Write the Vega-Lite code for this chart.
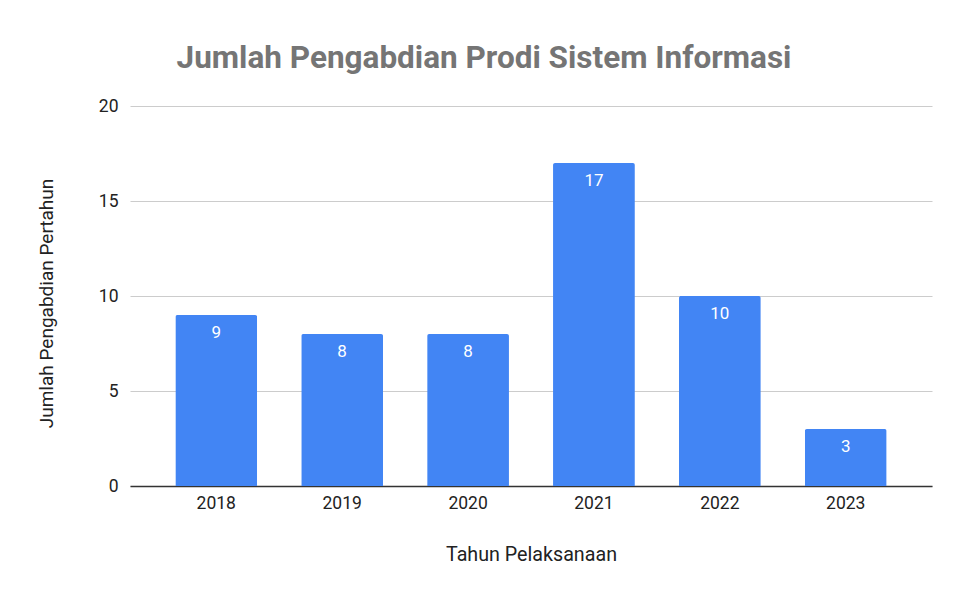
{
  "$schema": "https://vega.github.io/schema/vega-lite/v6.json",
  "autosize": "none",
  "width": 802,
  "height": 380,
  "padding": {"left": 130, "top": 106, "right": 21, "bottom": 106},
  "background": "white",
  "config": {
    "font": "Roboto",
    "view": {"stroke": null}
  },
  "title": {
    "text": "Jumlah Pengabdian Prodi Sistem Informasi",
    "font": "Roboto",
    "fontSize": 31.5,
    "fontWeight": "bold",
    "color": "#757575",
    "anchor": "middle",
    "dx": -47,
    "offset": 23
  },
  "data": {
    "values": [
      {"tahun": "2018", "jumlah": 9},
      {"tahun": "2019", "jumlah": 8},
      {"tahun": "2020", "jumlah": 8},
      {"tahun": "2021", "jumlah": 17},
      {"tahun": "2022", "jumlah": 10},
      {"tahun": "2023", "jumlah": 3}
    ]
  },
  "encoding": {
    "x": {
      "field": "tahun",
      "type": "nominal",
      "scale": {"paddingInner": 0.35, "paddingOuter": 0.36},
      "axis": {
        "title": "Tahun Pelaksanaan",
        "titleFont": "Roboto",
        "titleFontSize": 19.7,
        "titleFontWeight": "normal",
        "titleColor": "#222222",
        "titlePadding": 33,
        "labelAngle": 0,
        "labelFontSize": 17.5,
        "labelColor": "#222222",
        "labelPadding": 8,
        "ticks": false,
        "domainColor": "#333333",
        "domainWidth": 1.5,
        "grid": false
      }
    },
    "y": {
      "field": "jumlah",
      "type": "quantitative",
      "scale": {"domain": [0, 20], "nice": false},
      "axis": {
        "title": "Jumlah Pengabdian Pertahun",
        "titleFont": "Roboto",
        "titleFontSize": 19,
        "titleFontWeight": "normal",
        "titleColor": "#222222",
        "titlePadding": 42,
        "titleY": 197,
        "values": [0, 5, 10, 15, 20],
        "labelFontSize": 17.5,
        "labelColor": "#222222",
        "labelPadding": 12,
        "ticks": false,
        "domain": false,
        "gridColor": "#cccccc",
        "gridWidth": 1
      }
    }
  },
  "layer": [
    {"mark": {"type": "bar", "color": "#4285F4", "cornerRadiusTopLeft": 2, "cornerRadiusTopRight": 2}},
    {
      "mark": {"type": "text", "color": "white", "fontSize": 17, "baseline": "top", "dy": 10, "font": "Roboto"},
      "encoding": {"text": {"field": "jumlah", "type": "quantitative"}}
    }
  ]
}
